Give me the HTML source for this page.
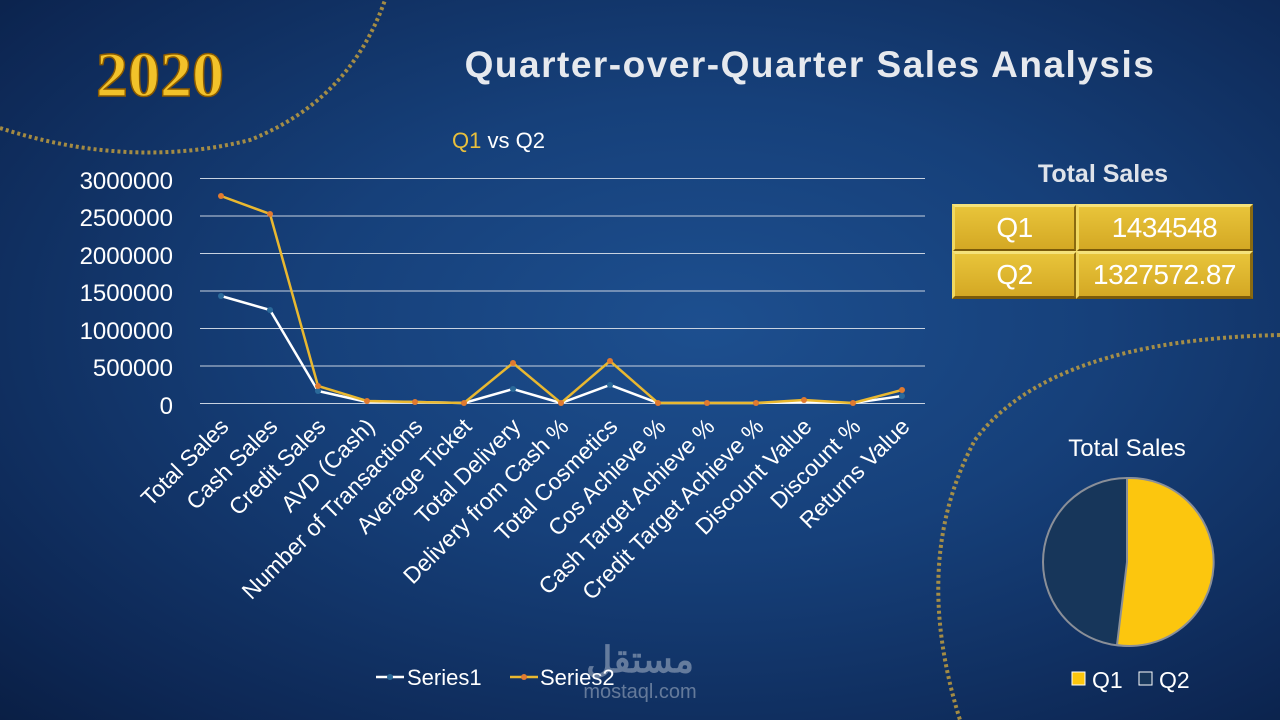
<!DOCTYPE html>
<html><head><meta charset="utf-8"><style>
html,body{margin:0;padding:0}
body{width:1280px;height:720px;overflow:hidden;background:radial-gradient(ellipse at 55% 45%,#1d4f8f 0%,#16407a 40%,#0d2754 85%,#0a1f45 100%);font-family:"Liberation Sans",sans-serif;position:relative}
.cell{position:absolute;background:linear-gradient(#e8c43a,#d4a824);border:3px solid;border-color:#f5e27a #8a6a10 #7a5a0a #f0d860;box-sizing:border-box;color:#fff;font-size:28px;text-align:center;line-height:42px;letter-spacing:-0.5px}
</style></head><body>
<svg width="1280" height="720" style="position:absolute;left:0;top:0">
<path d="M0 128 Q130 170 250 140 Q350 100 385 0" fill="none" stroke="#c9a23c" stroke-width="4" stroke-dasharray="3 3" opacity="0.8"/>
<path d="M1280 335 Q1050 340 975 440 Q910 560 960 720" fill="none" stroke="#c9a23c" stroke-width="4" stroke-dasharray="3 3" opacity="0.8"/>
<text x="160" y="96" text-anchor="middle" font-family="Liberation Serif" font-weight="bold" font-size="64" fill="#f2c22a" stroke="#8a5a00" stroke-width="1.5">2020</text>
<text x="810" y="77" text-anchor="middle" font-weight="bold" font-size="37" fill="#e6e9ee" letter-spacing="1.5">Quarter-over-Quarter Sales Analysis</text>
<text x="452" y="148" font-size="22" fill="#fff"><tspan fill="#e9bf3c">Q1</tspan> vs Q2</text>
<g stroke="#c8d2e0" stroke-width="1">
<line x1="200" y1="178.5" x2="925" y2="178.5"/><line x1="200" y1="216" x2="925" y2="216"/><line x1="200" y1="253.5" x2="925" y2="253.5"/><line x1="200" y1="291" x2="925" y2="291"/><line x1="200" y1="328.5" x2="925" y2="328.5"/><line x1="200" y1="366" x2="925" y2="366"/><line x1="200" y1="403.5" x2="925" y2="403.5"/>
</g>
<g font-size="24" fill="#fff" text-anchor="end">
<text x="173" y="189">3000000</text><text x="173" y="226">2500000</text><text x="173" y="264">2000000</text><text x="173" y="301">1500000</text><text x="173" y="339">1000000</text><text x="173" y="376">500000</text><text x="173" y="414">0</text>
</g>
<polyline fill="none" stroke="#fff" stroke-width="2.5" points="221,296 270,310 318,391 367,402 415,402 464,403 513,389 561,403 610,385 658,403 707,403 756,403 804,402 853,403 902,396"/>
<polyline fill="none" stroke="#e9b830" stroke-width="2.5" points="221,196 270,214 318,386 367,401 415,402 464,403 513,363 561,403 610,361 658,403 707,403 756,403 804,400 853,403 902,390"/>
<g fill="#2b6a9a"><circle cx="221" cy="296" r="3"/><circle cx="270" cy="310" r="3"/><circle cx="318" cy="391" r="3"/><circle cx="513" cy="389" r="3"/><circle cx="610" cy="385" r="3"/><circle cx="902" cy="396" r="3"/></g>
<g fill="#e07a30"><circle cx="221" cy="196" r="3"/><circle cx="270" cy="214" r="3"/><circle cx="318" cy="386" r="3"/><circle cx="367" cy="401" r="3"/><circle cx="415" cy="402" r="3"/><circle cx="464" cy="403" r="3"/><circle cx="513" cy="363" r="3"/><circle cx="561" cy="403" r="3"/><circle cx="610" cy="361" r="3"/><circle cx="658" cy="403" r="3"/><circle cx="707" cy="403" r="3"/><circle cx="756" cy="403" r="3"/><circle cx="804" cy="400" r="3"/><circle cx="853" cy="403" r="3"/><circle cx="902" cy="390" r="3"/></g>
<g font-size="23" fill="#fff" text-anchor="end">
<text transform="translate(230,428) rotate(-45)">Total Sales</text>
<text transform="translate(279,428) rotate(-45)">Cash Sales</text>
<text transform="translate(327,428) rotate(-45)">Credit Sales</text>
<text transform="translate(376,428) rotate(-45)">AVD (Cash)</text>
<text transform="translate(424,428) rotate(-45)">Number of Transactions</text>
<text transform="translate(473,428) rotate(-45)">Average Ticket</text>
<text transform="translate(522,428) rotate(-45)">Total Delivery</text>
<text transform="translate(570,428) rotate(-45)">Delivery from Cash %</text>
<text transform="translate(619,428) rotate(-45)">Total Cosmetics</text>
<text transform="translate(667,428) rotate(-45)">Cos Achieve %</text>
<text transform="translate(716,428) rotate(-45)">Cash Target Achieve %</text>
<text transform="translate(765,428) rotate(-45)">Credit Target Achieve %</text>
<text transform="translate(813,428) rotate(-45)">Discount Value</text>
<text transform="translate(862,428) rotate(-45)">Discount %</text>
<text transform="translate(911,428) rotate(-45)">Returns Value</text>
</g>
<line x1="376" y1="677" x2="404" y2="677" stroke="#fff" stroke-width="2.5"/><circle cx="390" cy="677" r="3" fill="#2b6a9a"/>
<text x="407" y="685" font-size="22" fill="#fff">Series1</text>
<line x1="510" y1="677" x2="538" y2="677" stroke="#e9b830" stroke-width="2.5"/><circle cx="524" cy="677" r="3" fill="#e07a30"/>
<text x="540" y="685" font-size="22" fill="#fff">Series2</text>
<text x="640" y="672" text-anchor="middle" font-size="36" font-weight="bold" fill="#fff" opacity="0.35">مستقل</text>
<text x="640" y="698" text-anchor="middle" font-size="20" fill="#fff" opacity="0.35">mostaql.com</text>
<text x="1103" y="182" text-anchor="middle" font-weight="bold" font-size="25" fill="#dfe3ea">Total Sales</text>
<text x="1127" y="456" text-anchor="middle" font-size="24" fill="#fff">Total Sales</text>
<circle cx="1127" cy="562" r="84" fill="#17365a" stroke="#8a8f98" stroke-width="2"/>
<path d="M1127 562 L1127 478 A84 84 0 1 1 1117 645 Z" fill="#fcc60e" stroke="#8a8f98" stroke-width="2"/>
<rect x="1072" y="672" width="13" height="13" fill="#fcc60e" stroke="#fff" stroke-width="1"/>
<text x="1092" y="688" font-size="23" fill="#fff">Q1</text>
<rect x="1139" y="672" width="13" height="13" fill="#17365a" stroke="#fff" stroke-width="1"/>
<text x="1159" y="688" font-size="23" fill="#fff">Q2</text>
</svg>
<div class="cell" style="left:952px;top:204px;width:125px;height:48px">Q1</div>
<div class="cell" style="left:1076px;top:204px;width:177px;height:48px">1434548</div>
<div class="cell" style="left:952px;top:251px;width:125px;height:48px">Q2</div>
<div class="cell" style="left:1076px;top:251px;width:177px;height:48px">1327572.87</div>
</body></html>
